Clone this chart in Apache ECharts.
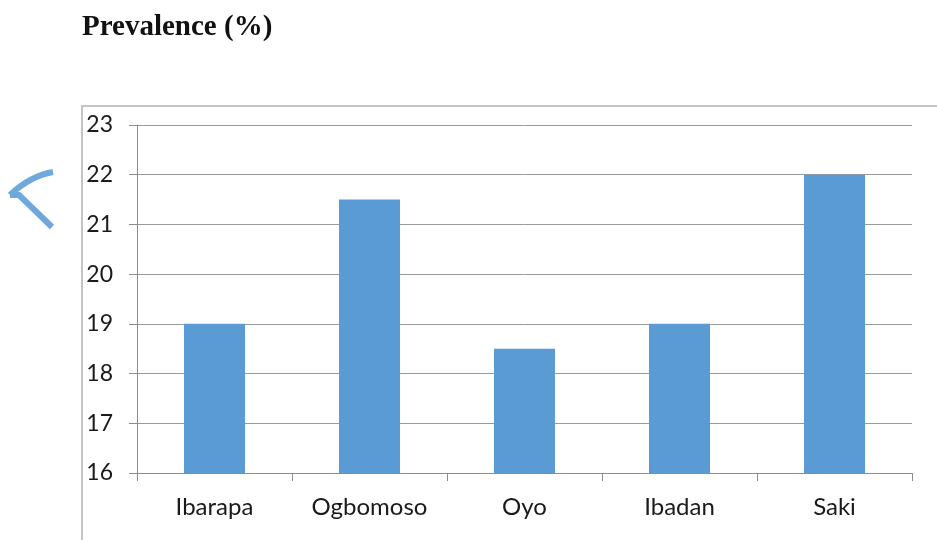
<!DOCTYPE html>
<html><head><meta charset="utf-8">
<script src="https://cdn.jsdelivr.net/npm/echarts@6/dist/echarts.min.js"></script>
<style>html,body{margin:0;padding:0;background:#fff}#c{width:937px;height:540px}</style>
</head><body><div id="c"></div>
<script>
const categories = ["Ibarapa","Ogbomoso","Oyo","Ibadan","Saki"];
const prevalence = [19, 21.5, 18.5, 19, 22];
const yTicks = [16,17,18,19,20,21,22,23];
const titleText = "Prevalence (%)";

const chart = echarts.init(document.getElementById('c'), null, {renderer:'canvas'});
chart.setOption({
  animation:false,
  backgroundColor:'#fff',
  title:{text:titleText,left:77,top:8,textStyle:{fontFamily:'Liberation Serif',fontWeight:'bold',fontSize:29,color:'#111'}},
  graphic:[
    {type:'rect',shape:{x:82,y:106,width:900,height:500},style:{fill:'none',stroke:'#c4c4c4',lineWidth:2},z:-1},
    {type:'bezierCurve',shape:{x1:53,y1:172,cpx1:30,cpy1:176,x2:10,y2:195},style:{fill:'none',stroke:'#6fa8dc',lineWidth:6}},
    {type:'polyline',shape:{points:[[10,195],[19,195],[52,227]]},style:{fill:'none',stroke:'#6fa8dc',lineWidth:6}}
  ],
  grid:{left:137,right:25,top:125,bottom:67},
  xAxis:{type:'category',data:categories,
    axisLine:{lineStyle:{color:'#8c8c8c',width:1}},
    axisTick:{show:true,length:8,lineStyle:{color:'#8c8c8c'}},
    axisLabel:{color:'#1a1a1a',fontFamily:'Lato',fontSize:24,margin:22}},
  yAxis:{type:'value',min:yTicks[0],max:yTicks[yTicks.length-1],interval:1,
    axisLine:{show:true,lineStyle:{color:'#8c8c8c'}},
    axisTick:{show:true,length:8,lineStyle:{color:'#8c8c8c'}},
    splitLine:{lineStyle:{color:'#9a9a9a',width:1}},
    axisLabel:{color:'#1a1a1a',fontFamily:'Lato',fontSize:23,margin:24}},
  series:[{type:'bar',data:prevalence,barWidth:61,itemStyle:{color:'#5b9bd5'}}]
});
</script></body></html>
